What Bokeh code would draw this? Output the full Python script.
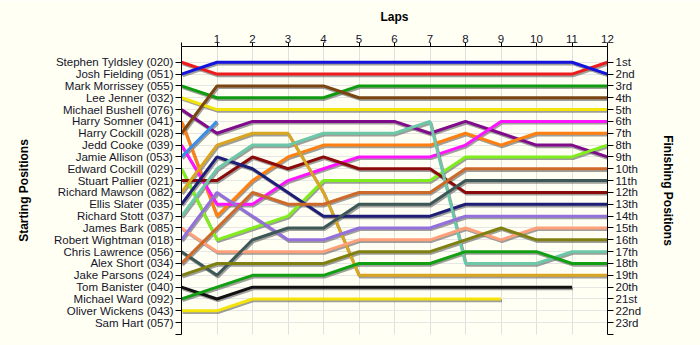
from bokeh.plotting import figure
from bokeh.models import (ColumnDataSource, Range1d, LinearAxis, FixedTicker, Grid)
from bokeh.transform import dodge
from bokeh.embed import file_html
from bokeh.resources import INLINE

laps = list(range(13))

drivers = [
    "Stephen Tyldsley (020)", "Josh Fielding (051)", "Mark Morrissey (055)",
    "Lee Jenner (032)", "Michael Bushell (076)", "Harry Somner (041)",
    "Harry Cockill (028)", "Jedd Cooke (039)", "Jamie Allison (053)",
    "Edward Cockill (029)", "Stuart Pallier (021)", "Richard Mawson (082)",
    "Ellis Slater (035)", "Richard Stott (037)", "James Bark (085)",
    "Robert Wightman (018)", "Chris Lawrence (056)", "Alex Short (034)",
    "Jake Parsons (024)", "Tom Banister (040)", "Michael Ward (092)",
    "Oliver Wickens (043)", "Sam Hart (057)",
]

finish_labels = ["1st", "2nd", "3rd", "4th", "5th", "6th", "7th", "8th", "9th",
                 "10th", "11th", "12th", "13th", "14th", "15th", "16th", "17th",
                 "18th", "19th", "20th", "21st", "22nd", "23rd"]

# positions per lap (lap 0 = start)
pos_tyldsley = [1, 2, 2, 2, 2, 2, 2, 2, 2, 2, 2, 2, 1]
pos_fielding = [2, 1, 1, 1, 1, 1, 1, 1, 1, 1, 1, 1, 2]
pos_morrissey = [3, 4, 4, 4, 4, 3, 3, 3, 3, 3, 3, 3, 3]
pos_jenner = [4, 5, 5, 5, 5, 5, 5, 5, 5, 5, 5, 5, 5]
pos_bushell = [5, 7, 6, 6, 6, 6, 6, 7, 6, 7, 8, 8, 9]
pos_somner = [6, 14, 11, 9, 8, 8, 8, 8, 7, 8, 7, 7, 7]
pos_h_cockill = [7, 3, 3, 3, 3, 4, 4, 4, 4, 4, 4, 4, 4]
pos_cooke = [8, 13, 13, 11, 10, 9, 9, 9, 8, 6, 6, 6, 6]
pos_allison = [9, 6]
pos_e_cockill = [10, 16, 15, 14, 11, 11, 11, 11, 9, 9, 9, 9, 8]
pos_pallier = [11, 11, 9, 10, 9, 10, 10, 10, 12, 12, 12, 12, 12]
pos_mawson = [12, 8, 7, 7, 12, 19, 19, 19, 19, 19, 19, 19, 19]
pos_slater = [13, 9, 10, 12, 14, 14, 14, 14, 13, 13, 13, 13, 13]
pos_stott = [14, 10, 8, 8, 7, 7, 7, 6, 18, 18, 18, 17, 17]
pos_bark = [15, 17, 17, 17, 17, 16, 16, 16, 15, 16, 15, 15, 15]
pos_wightman = [16, 12, 14, 16, 16, 15, 15, 15, 14, 14, 14, 14, 14]
pos_lawrence = [17, 19, 16, 15, 15, 13, 13, 13, 11, 11, 11, 11, 11]
pos_short = [18, 15, 12, 13, 13, 12, 12, 12, 10, 10, 10, 10, 10]
pos_parsons = [19, 18, 18, 18, 18, 17, 17, 17, 16, 15, 16, 16, 16]
pos_banister = [20, 21, 20, 20, 20, 20, 20, 20, 20, 20, 20, 20]
pos_ward = [21, 20, 19, 19, 19, 18, 18, 18, 17, 17, 17, 18, 18]
pos_wickens = [22, 22, 21, 21, 21, 21, 21, 21, 21, 21]
pos_hart = []

series = [pos_tyldsley, pos_fielding, pos_morrissey, pos_jenner, pos_bushell,
          pos_somner, pos_h_cockill, pos_cooke, pos_allison, pos_e_cockill,
          pos_pallier, pos_mawson, pos_slater, pos_stott, pos_bark,
          pos_wightman, pos_lawrence, pos_short, pos_parsons, pos_banister,
          pos_ward, pos_wickens, pos_hart]

colors = ["#EE1C1C", "#1414DC", "#109C10", "#F2E30A", "#800C8C",
          "#FF8010", "#7A4510", "#FF14FF", "#3A8EE8", "#80EE1C",
          "#8B0A0A", "#DAA520", "#1E1E78", "#6CC8A8", "#FFA07A",
          "#9370DB", "#3E5858", "#CD6A2A", "#808010", "#111111",
          "#12A012", "#F5E40A", "#000000"]

bg = "#FFFFF4"
txt = "#14142a"
font = "Liberation Sans"

p = figure(width=700, height=345, output_backend="svg", toolbar_location=None,
           x_range=Range1d(0, 12), y_range=Range1d(24, -0.33),
           x_axis_location=None, y_axis_location=None,
           min_border_left=181, min_border_right=93, min_border_top=46,
           min_border_bottom=11, background_fill_color=bg,
           border_fill_color=bg, outline_line_color=None)

p.center = [c for c in p.center if not isinstance(c, Grid)]
p.add_layout(Grid(dimension=0, ticker=FixedTicker(ticks=list(range(1, 12))),
                  grid_line_color="#E0E0E0", grid_line_width=1))
p.add_layout(Grid(dimension=1, ticker=FixedTicker(ticks=list(range(1, 24))),
                  grid_line_color="#E6E6E6", grid_line_width=1))


def style_axis(ax):
    ax.axis_line_color = "black"
    ax.major_tick_line_color = "black"
    ax.minor_tick_line_color = None
    ax.major_tick_in = 0
    ax.major_tick_out = 6
    ax.major_label_standoff = 2
    ax.major_label_text_font = font
    ax.major_label_text_font_size = "11.5px"
    ax.major_label_text_color = txt
    ax.axis_label_text_font = font
    ax.axis_label_text_font_size = "12px"
    ax.axis_label_text_font_style = "bold"
    ax.axis_label_text_color = "black"


top = LinearAxis(ticker=FixedTicker(ticks=laps), axis_label="Laps",
                 major_label_overrides={0: ""})
style_axis(top)
top.major_tick_out = 4
top.major_label_standoff = 0
top.axis_label_standoff = 8
p.add_layout(top, "above")

left_over = {i + 1: n for i, n in enumerate(drivers)}
left_over[24] = ""
left = LinearAxis(ticker=FixedTicker(ticks=list(range(1, 25))),
                  axis_label="Starting Positions", major_label_overrides=left_over)
style_axis(left)
left.axis_label_standoff = 20
p.add_layout(left, "left")

right_over = {i + 1: n for i, n in enumerate(finish_labels)}
right_over[24] = ""
right = LinearAxis(ticker=FixedTicker(ticks=list(range(1, 25))),
                   axis_label="Finishing Positions", major_label_overrides=right_over)
style_axis(right)
right.axis_label_standoff = 17
p.add_layout(right, "right")

sources = []
for s in series:
    if len(s) < 2:
        sources.append(None)
        continue
    sources.append(ColumnDataSource(dict(x=laps[:len(s)], y=s)))

for src in sources:
    if src is None:
        continue
    p.line(x=dodge("x", 0.03, range=p.x_range), y=dodge("y", 0.14, range=p.y_range),
           source=src, line_color="#6a6a6a", line_alpha=0.65, line_width=3)

for src, c in zip(sources, colors):
    if src is None:
        continue
    p.line(x="x", y="y", source=src, line_color=c, line_width=3)

open("out.html", "w").write(file_html(p, INLINE))
